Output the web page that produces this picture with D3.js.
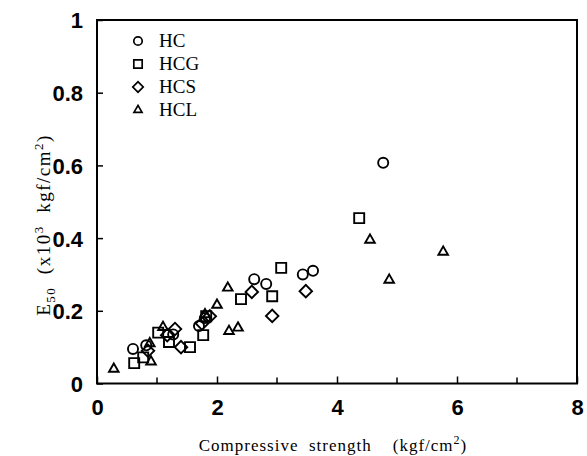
<!DOCTYPE html>
<html>
<head>
<meta charset="utf-8">
<script src="https://cdn.jsdelivr.net/npm/d3@7"></script>
<style>
  body { margin: 0; background: #fff; }
  svg { display: block; }
</style>
</head>
<body>
<div id="chart"></div>
<script>
// Valeurs
const hcX  = [0.60, 0.82, 1.27, 1.70, 1.80, 2.62, 2.82, 3.43, 3.60, 4.77];
const hcY  = [0.095, 0.105, 0.135, 0.158, 0.180, 0.287, 0.274, 0.300, 0.310, 0.607];
const hcgX = [0.62, 0.77, 1.02, 1.20, 1.55, 1.77, 1.82, 2.40, 2.92, 3.07, 4.37];
const hcgY = [0.056, 0.072, 0.140, 0.114, 0.100, 0.133, 0.185, 0.232, 0.240, 0.318, 0.455];
const hcsX = [0.85, 1.17, 1.30, 1.40, 1.75, 1.88, 2.58, 2.92, 3.48];
const hcsY = [0.090, 0.133, 0.150, 0.100, 0.165, 0.185, 0.252, 0.186, 0.254];
const hclX = [0.28, 0.88, 0.90, 1.10, 1.80, 2.00, 2.18, 2.20, 2.35, 4.55, 4.87, 5.77];
const hclY = [0.040, 0.110, 0.060, 0.155, 0.190, 0.216, 0.263, 0.144, 0.153, 0.395, 0.285, 0.362];

const seriesNames = ["HC", "HCG", "HCS", "HCL"];
const xTicks = [0, 2, 4, 6, 8];
const xMinor = [1, 3, 5, 7];
const yTicks = [0, 0.2, 0.4, 0.6, 0.8, 1];

const width = 587;
const height = 456;

const svg = d3.select("#chart")
    .append("svg")
    .attr("width", width)
    .attr("height", height);

const x = d3.scaleLinear().domain([0, 8]).range([97, 577]);
const y = d3.scaleLinear().domain([0, 1]).range([383.5, 20]);

// formes des marqueurs
const shapes = {
    HC:  { type: d3.symbolCircle,   size: 80,  rot: 0 },
    HCG: { type: d3.symbolSquare,   size: 100, rot: 0 },
    HCS: { type: d3.symbolSquare,   size: 78,  rot: 45 },
    HCL: { type: d3.symbolTriangle, size: 40,  rot: 0 }
};

const series = [
    { name: "HC",  xs: hcX,  ys: hcY },
    { name: "HCG", xs: hcgX, ys: hcgY },
    { name: "HCS", xs: hcsX, ys: hcsY },
    { name: "HCL", xs: hclX, ys: hclY }
];

// axe x (graduations vers l'intérieur)
const xAxis = svg.append("g")
    .attr("transform", `translate(0, ${y(0)})`)
    .call(d3.axisBottom(x).tickValues(xTicks).tickSize(-7).tickPadding(16).tickFormat(d3.format("d")));
xAxis.append("g").selectAll("line")
    .data(xMinor)
    .enter().append("line")
    .attr("x1", d => x(d)).attr("x2", d => x(d))
    .attr("y1", 0).attr("y2", -6)
    .attr("stroke", "#000").attr("stroke-width", 1.5);

// axe y
const yAxis = svg.append("g")
    .attr("transform", `translate(${x(0)}, 0)`)
    .call(d3.axisLeft(y).tickValues(yTicks).tickSize(-6).tickPadding(14).tickFormat(d => d === 0 || d === 1 ? d3.format("d")(d) : d3.format(".1f")(d)));

[xAxis, yAxis].forEach(g => {
    g.select(".domain").remove();
    g.selectAll(".tick line").attr("stroke", "#000").attr("stroke-width", 1.5);
    g.selectAll(".tick text")
        .attr("fill", "#000")
        .style("font-family", "'Liberation Sans', Arial, sans-serif")
        .style("font-weight", "bold")
        .style("font-size", "22px");
});
yAxis.selectAll(".tick text").attr("dy", "0.36em");

// cadre
svg.append("rect")
    .attr("x", x(0)).attr("y", y(1))
    .attr("width", x(8) - x(0)).attr("height", y(0) - y(1))
    .attr("fill", "none").attr("stroke", "#000").attr("stroke-width", 2);

// points
series.forEach(s => {
    const sh = shapes[s.name];
    svg.append("g")
        .selectAll("path")
        .data(s.xs.map((v, i) => [v, s.ys[i]]))
        .enter().append("path")
        .attr("d", d3.symbol().type(sh.type).size(sh.size))
        .attr("transform", d => `translate(${x(d[0])}, ${y(d[1])}) rotate(${sh.rot})`)
        .attr("fill", "none")
        .attr("stroke", "#000")
        .attr("stroke-width", 1.9);
});

// légende
const legend = svg.append("g").attr("transform", "translate(138, 41)");
seriesNames.forEach((name, i) => {
    const sh = shapes[name];
    const row = legend.append("g").attr("transform", `translate(0, ${i * 23})`);
    row.append("path")
        .attr("d", d3.symbol().type(sh.type).size(sh.size * 0.7))
        .attr("transform", `rotate(${sh.rot})`)
        .attr("fill", "none")
        .attr("stroke", "#000")
        .attr("stroke-width", 1.7);
    row.append("text")
        .attr("x", 21)
        .attr("y", 6)
        .style("font-family", "'Liberation Serif', 'Times New Roman', serif")
        .style("font-size", "19px")
        .text(name);
});

// titres des axes
svg.append("text")
    .attr("x", 333)
    .attr("y", 451)
    .attr("text-anchor", "middle")
    .style("font-family", "'Liberation Serif', 'Times New Roman', serif")
    .style("font-size", "17px")
    .style("letter-spacing", "1px")
    .style("white-space", "pre")
    .html("Compressive  strength    (kgf/cm<tspan dy='-7' font-size='12px'>2</tspan><tspan dy='7'>)</tspan>");

svg.append("text")
    .attr("transform", "translate(50, 225) rotate(-90)")
    .attr("text-anchor", "middle")
    .style("font-family", "'Liberation Serif', 'Times New Roman', serif")
    .style("font-size", "19px")
    .style("letter-spacing", "1.5px")
    .style("white-space", "pre")
    .html("E<tspan dy='5' font-size='13px'>50</tspan><tspan dy='-5'>  (x10</tspan><tspan dy='-7' font-size='13px'>3</tspan><tspan dy='7'>  kgf/cm</tspan><tspan dy='-7' font-size='13px'>2</tspan><tspan dy='7'>)</tspan>");
</script>
</body>
</html>
